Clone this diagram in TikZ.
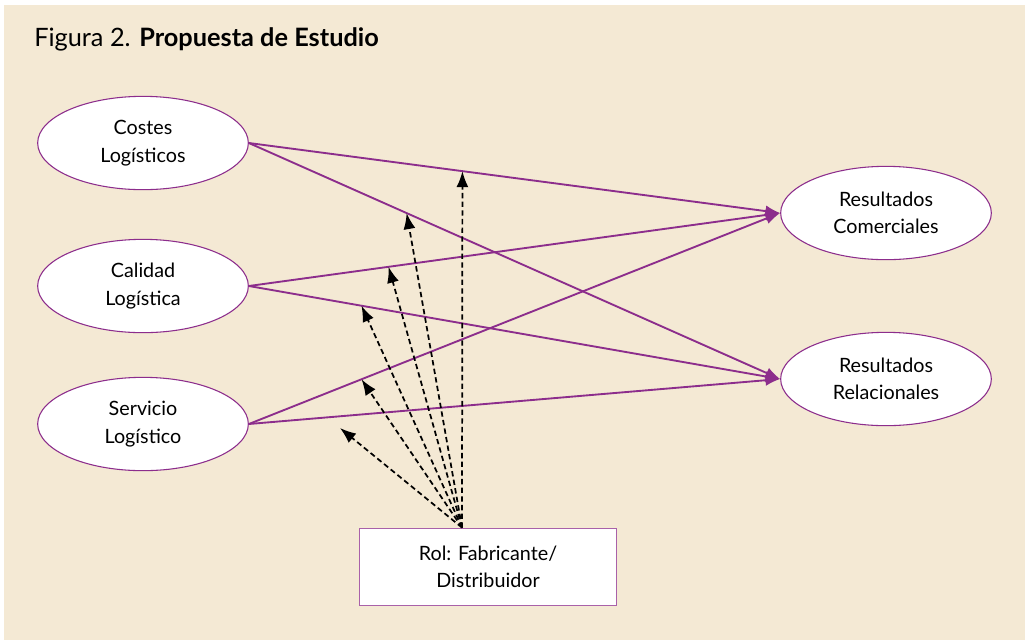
\documentclass[tikz,border=0pt]{standalone}
\usepackage{fontspec}
\setmainfont{Lato}
\usepackage{tikz}
\usetikzlibrary{arrows.meta}
\usetikzlibrary{shapes.geometric}

\definecolor{fondo}{RGB}{244,233,212}
\definecolor{morado}{RGB}{140,45,140}

\tikzset{
  factor/.style={ellipse, draw=morado, line width=0.8pt, fill=white, minimum width=158pt, minimum height=70pt, inner sep=0pt, align=center, font=\fontsize{14.8}{20.5}\selectfont},
  rolbox/.style={rectangle, draw=morado!75, line width=1.1pt, fill=white, minimum width=193pt, minimum height=58pt, align=center, font=\fontsize{14.8}{20.5}\selectfont},
  efecto/.style={morado, line width=1.4pt, -{Latex[length=11pt,width=8.5pt]}},
  moderador/.style={black, line width=1.3pt, dash pattern=on 4pt off 2.5pt, -{Latex[length=12pt,width=9pt]}}
}

\begin{document}
\begin{tikzpicture}[x=0.75pt, y=-0.75pt]
\useasboundingbox (0,0) rectangle (1025,640);
\fill[white] (0,0) rectangle (1025,640);
\fill[fondo] (4,5) rectangle (1025,640);

\node[anchor=base west, inner sep=0pt, font=\fontsize{19}{22}\selectfont] (titulo) at (34,46) {Figura 2. \textbf{Propuesta de Estudio}};

\node[factor] (costes) at (143,143) {Costes\\Logísticos};
\node[factor] (calidad) at (143,286) {Calidad\\Logística};
\node[factor] (servicio) at (143,424) {Servicio\\Logístico};
\node[factor] (comerciales) at (886,213) {Resultados\\Comerciales};
\node[factor] (relacionales) at (886,379) {Resultados\\Relacionales};
\node[rolbox] (rol) at (488,567) {Rol: Fabricante/\\Distribuidor};

% efectos directos
\draw[efecto] (costes.east) -- coordinate[pos=0.402] (m1) (comerciales.west);
\draw[efecto] (costes.east) -- coordinate[pos=0.297] (m2) (relacionales.west);
\draw[efecto] (calidad.east) -- coordinate[pos=0.263] (m3) (comerciales.west);
\draw[efecto] (calidad.east) -- coordinate[pos=0.212] (m4) (relacionales.west);
\draw[efecto] (servicio.east) -- coordinate[pos=0.212] (m5) (comerciales.west);
\draw[efecto] (servicio.east) -- (relacionales.west);

% moderacion del rol
\coordinate (fuente) at ([xshift=-19.5pt]rol.north);
\coordinate (m6) at (340,428);
\foreach \m in {m1,m2,m3,m4,m5,m6}
	\draw[moderador] (fuente) -- (\m);
\end{tikzpicture}
\end{document}
